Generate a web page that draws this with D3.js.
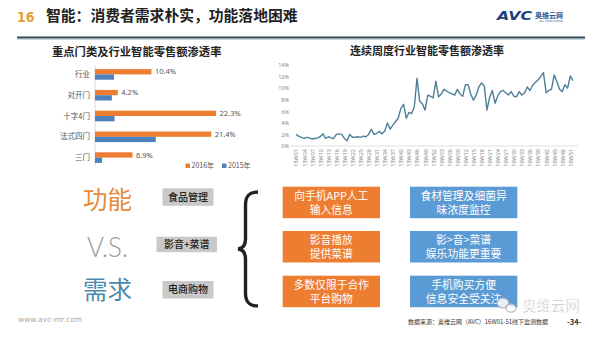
<!DOCTYPE html>
<html><head><meta charset="utf-8">
<script src="https://cdn.jsdelivr.net/npm/d3@7/dist/d3.min.js"></script>
<style>
html,body{margin:0;padding:0;background:#fff;}
svg{display:block;font-family:"Noto Sans CJK SC","Noto Sans",sans-serif;}
</style></head>
<body>
<svg id="c" width="600" height="337"></svg>
<script>
// ---- data ----
const categories = ["行业", "对开门", "十字4门", "法式四门", "三门"];
const series = ["2016年", "2015年"];
const values2016 = [10.4, 4.2, 22.3, 21.4, 6.9];
const values2015 = [3.5, 3.1, 3.6, 11.2, 1.3];

const weeklyValues = [2.0,1.7,1.5,1.3,1.5,1.4,1.2,1.3,1.4,1.6,2.1,1.3,1.6,1.4,1.3,2.0,2.1,2.0,1.3,0.9,
  2.0,1.5,1.5,1.6,1.5,1.7,1.6,2.0,2.9,2.0,2.2,2.5,2.1,2.6,4.0,2.9,3.6,4.2,4.8,6.5,
  7.2,4.8,5.8,5.6,6.8,11.7,7.7,7.3,6.2,8.8,8.6,8.3,11.2,8.5,9.0,9.8,9.5,9.2,9.0,8.8,
  9.8,9.0,8.6,10.6,10.6,8.9,7.9,8.8,10.2,10.9,10.4,6.2,8.4,9.6,7.4,8.6,9.4,9.6,9.2,8.8,
  9.4,8.6,8.5,9.4,8.8,9.2,10.2,9.6,10.5,11.0,11.4,12.0,12.7,9.2,9.6,9.8,12.3,11.1,9.8,9.4,
  10.6,10.0,12.1,11.3];
const weekTickLabels = ["15W01","15W04","15W07","15W10","15W13","15W16","15W19","15W22","15W25","15W28",
  "15W31","15W34","15W37","15W40","15W43","15W46","15W49","15W52","16W03","16W06","16W09","16W12",
  "16W15","16W18","16W21","16W24","16W27","16W30","16W33","16W36","16W39","16W42","16W45","16W48","16W51"];
const yTicks = [0, 2, 4, 6, 8, 10, 12, 14];

const functions = ["食品管理", "影音+菜谱", "电商购物"];
const orangeTexts = [["向手机APP人工", "输入信息"], ["影音播放", "提供菜谱"], ["多数仅限于合作", "平台购物"]];
const blueTexts = [["食材管理及细菌异", "味浓度监控"], ["影>音>菜谱", "娱乐功能更重要"], ["手机购买方便", "信息安全受关注"]];

const weeks = [];
for (let i = 1; i <= 52; i++) weeks.push("15W" + String(i).padStart(2, "0"));
for (let i = 1; i <= 52; i++) weeks.push("16W" + String(i).padStart(2, "0"));

const ORANGE = "#ED7D31", BLUE = "#4F81BD", BOXBLUE = "#5B9BD5";
const svg = d3.select("#c");

// ---- header ----
svg.append("text").attr("x", 17).attr("y", 21.5).attr("font-family", "DejaVu Sans Condensed")
  .attr("font-weight", "bold").attr("font-size", 14).attr("fill", "#E0A030").text("16");
svg.append("text").attr("x", 46).attr("y", 21).attr("font-weight", "bold").attr("font-size", 14.8)
  .attr("fill", "#222").text("智能：消费者需求朴实，功能落地困难");
svg.append("line").attr("x1", 17).attr("x2", 585).attr("y1", 37.5).attr("y2", 37.5)
  .attr("stroke", "#2F4B5B").attr("stroke-width", 2);
svg.append("line").attr("x1", 17).attr("x2", 585).attr("y1", 39.5).attr("y2", 39.5)
  .attr("stroke", "#c9d3d8").attr("stroke-width", 1);
// logo
svg.append("text").attr("x", 497).attr("y", 20).attr("font-family", "DejaVu Sans").attr("font-weight", "bold")
  .attr("font-style", "italic").attr("font-size", 11.5).attr("fill", "#1D3F7A")
  .attr("textLength", 35).attr("lengthAdjust", "spacingAndGlyphs").text("AVC");
svg.append("text").attr("x", 535).attr("y", 18).attr("font-weight", "bold").attr("font-size", 7)
  .attr("fill", "#2A5A9A").text("奥维云网");
svg.append("text").attr("x", 539).attr("y", 22).attr("font-family", "DejaVu Sans").attr("font-size", 2.8)
  .attr("fill", "#2A5A9A").text("ALL VIEW CLOUD");

// ---- left bar chart ----
svg.append("text").attr("x", 52).attr("y", 55.5).attr("font-weight", "bold").attr("font-size", 11.3)
  .attr("fill", "#222").text("重点门类及行业智能零售额渗透率");

const xL = d3.scaleLinear().domain([0, 25]).range([95, 95 + 25 * 5.43]);
const yL = d3.scaleBand().domain(categories).range([64, 168]);
const yS = d3.scaleBand().domain(series).range([0, yL.bandwidth()]).paddingOuter(0.96);

svg.append("line").attr("x1", 95).attr("x2", 95).attr("y1", 66).attr("y2", 166)
  .attr("stroke", "#d0d0d0").attr("stroke-width", 0.8);

const g = svg.append("g");
categories.forEach((c, i) => {
  [[series[0], values2016[i], ORANGE], [series[1], values2015[i], BLUE]].forEach(([s, v, col]) => {
    g.append("rect").attr("x", xL(0)).attr("y", yL(c) + yS(s)).attr("width", xL(v) - xL(0))
      .attr("height", yS.bandwidth()).attr("fill", col);
  });
  g.append("text").attr("x", xL(values2016[i]) + 3.5).attr("y", yL(c) + yS(series[0]) + yS.bandwidth() / 2)
    .attr("dy", "0.35em").attr("font-size", 7.5).attr("fill", "#555").attr("font-family", "Noto Sans")
    .text(values2016[i] + "%");
  g.append("text").attr("x", 90).attr("y", yL(c) + yL.bandwidth() / 2).attr("dy", "0.35em")
    .attr("text-anchor", "end").attr("font-size", 7.5).attr("fill", "#555").text(c);
});
// legend
const lg = svg.append("g");
[[series[0], ORANGE, 185.5], [series[1], BLUE, 222]].forEach(([s, col, x]) => {
  lg.append("rect").attr("x", x).attr("y", 163.5).attr("width", 4.5).attr("height", 4.5).attr("fill", col);
  lg.append("text").attr("x", x + 6).attr("y", 166).attr("dy", "0.35em").attr("font-size", 7)
    .attr("fill", "#555").text(s);
});

// ---- right line chart ----
svg.append("text").attr("x", 427).attr("y", 54.5).attr("text-anchor", "middle").attr("font-weight", "bold")
  .attr("font-size", 11).attr("fill", "#222").text("连续周度行业智能零售额渗透率");

const xR = d3.scalePoint().domain(weeks).range([296, 573]);
const yR = d3.scaleLinear().domain([0, 14]).range([146, 65]);

const yAx = svg.append("g").attr("transform", "translate(290,0)")
  .call(d3.axisLeft(yR).tickValues(yTicks).tickSize(0).tickPadding(1).tickFormat(d => d + "%"));
yAx.select(".domain").remove();
yAx.selectAll("text").attr("font-size", 5.5).attr("fill", "#888").attr("font-family", "Noto Sans");

svg.append("line").attr("x1", 291).attr("x2", 578).attr("y1", yR(0)).attr("y2", yR(0))
  .attr("stroke", "#d8d8d8").attr("stroke-width", 0.8);

const xAx = svg.append("g").attr("transform", `translate(0,${yR(0)})`)
  .call(d3.axisBottom(xR).tickValues(weekTickLabels).tickSize(0));
xAx.select(".domain").remove();
xAx.selectAll("text").attr("font-size", 5.5).attr("fill", "#888").attr("font-family", "Noto Sans")
  .attr("text-anchor", "end").attr("transform", "rotate(-90)").attr("x", -3).attr("y", 0).attr("dy", "0.35em");

svg.append("path").datum(weeklyValues)
  .attr("d", d3.line().x((d, i) => xR(weeks[i])).y(d => yR(d)))
  .attr("fill", "none").attr("stroke", "#4D7F99").attr("stroke-width", 1.4).attr("stroke-linejoin", "round");

// ---- lower section ----
svg.append("text").attr("x", 83).attr("y", 209).attr("font-size", 24.5).attr("fill", "#E48B3C").text("功能");
svg.append("text").attr("x", 87).attr("y", 256.5).attr("font-family", "Lato").attr("font-weight", 300)
  .attr("font-size", 27).attr("fill", "#9a9a9a").attr("textLength", 41).attr("lengthAdjust", "spacingAndGlyphs").text("V.S.");
svg.append("text").attr("x", 83).attr("y", 299).attr("font-size", 24.5).attr("fill", "#4A8AAE").text("需求");

const greyBoxes = [[162.5, 188.3, 51, 17.5], [156.5, 236.7, 60.5, 15.5], [162.5, 281, 51, 17.5]];
functions.forEach((f, i) => {
  const [x, y, w, h] = greyBoxes[i];
  svg.append("rect").attr("x", x).attr("y", y).attr("width", w).attr("height", h).attr("fill", "#C9C9C9");
  svg.append("text").attr("x", x + w / 2).attr("y", y + h / 2).attr("dy", "0.36em").attr("text-anchor", "middle")
    .attr("font-size", 10).attr("font-weight", 500).attr("fill", "#222").text(f);
});

svg.append("path")
  .attr("d", "M258,192 C249,192 245.5,196 245.5,205 L245.5,239 C245.5,245 243,248.5 238,249 C243,249.5 245.5,253 245.5,259 L245.5,293 C245.5,302 249,306 258,306")
  .attr("fill", "none").attr("stroke", "#222").attr("stroke-width", 3.4);

const boxYs = [186.7, 231, 275.7];
const boxH = 31.5;
function twoLine(cx, y, lines) {
  const t = svg.append("text").attr("x", cx).attr("y", y + 13.3).attr("text-anchor", "middle")
    .attr("font-size", 10.8).attr("fill", "#fff");
  lines.forEach((s, j) => {
    t.append("tspan").attr("x", cx).attr("dy", j === 0 ? 0 : 13.5).text(s);
  });
}
boxYs.forEach((y, i) => {
  svg.append("rect").attr("x", 282.7).attr("y", y).attr("width", 97.3).attr("height", boxH).attr("fill", ORANGE);
  svg.append("rect").attr("x", 410).attr("y", y).attr("width", 107.3).attr("height", boxH).attr("fill", BOXBLUE);
  twoLine(331.3, y, orangeTexts[i]);
  twoLine(463.6, y, blueTexts[i]);
});

// watermark
const wm = svg.append("g").attr("opacity", 0.85);
wm.append("ellipse").attr("cx", 503).attr("cy", 303).attr("rx", 6).attr("ry", 5).attr("fill", "#fff").attr("stroke", "#aaa").attr("stroke-width", 1.2);
wm.append("ellipse").attr("cx", 511).attr("cy", 308).attr("rx", 5).attr("ry", 4.2).attr("fill", "#fff").attr("stroke", "#aaa").attr("stroke-width", 1.2);
wm.append("text").attr("x", 522).attr("y", 311).attr("font-size", 14.5).attr("fill", "#b8b8b8")
  .attr("stroke", "#fff").attr("stroke-width", 0.4).text("奥维云网");

// footer
svg.append("text").attr("x", 18).attr("y", 321.5).attr("font-family", "DejaVu Sans").attr("font-size", 7.5)
  .attr("fill", "#aaa").text("www.avc-mr.com");
svg.append("text").attr("x", 408).attr("y", 323.5).attr("font-size", 6).attr("fill", "#333")
  .text("数据来源：奥维云网（AVC）16W01-51线下监测数据");
svg.append("text").attr("x", 567).attr("y", 324.5).attr("font-weight", "bold").attr("font-size", 7.5)
  .attr("fill", "#333").text("-34-");
</script>
</body></html>
